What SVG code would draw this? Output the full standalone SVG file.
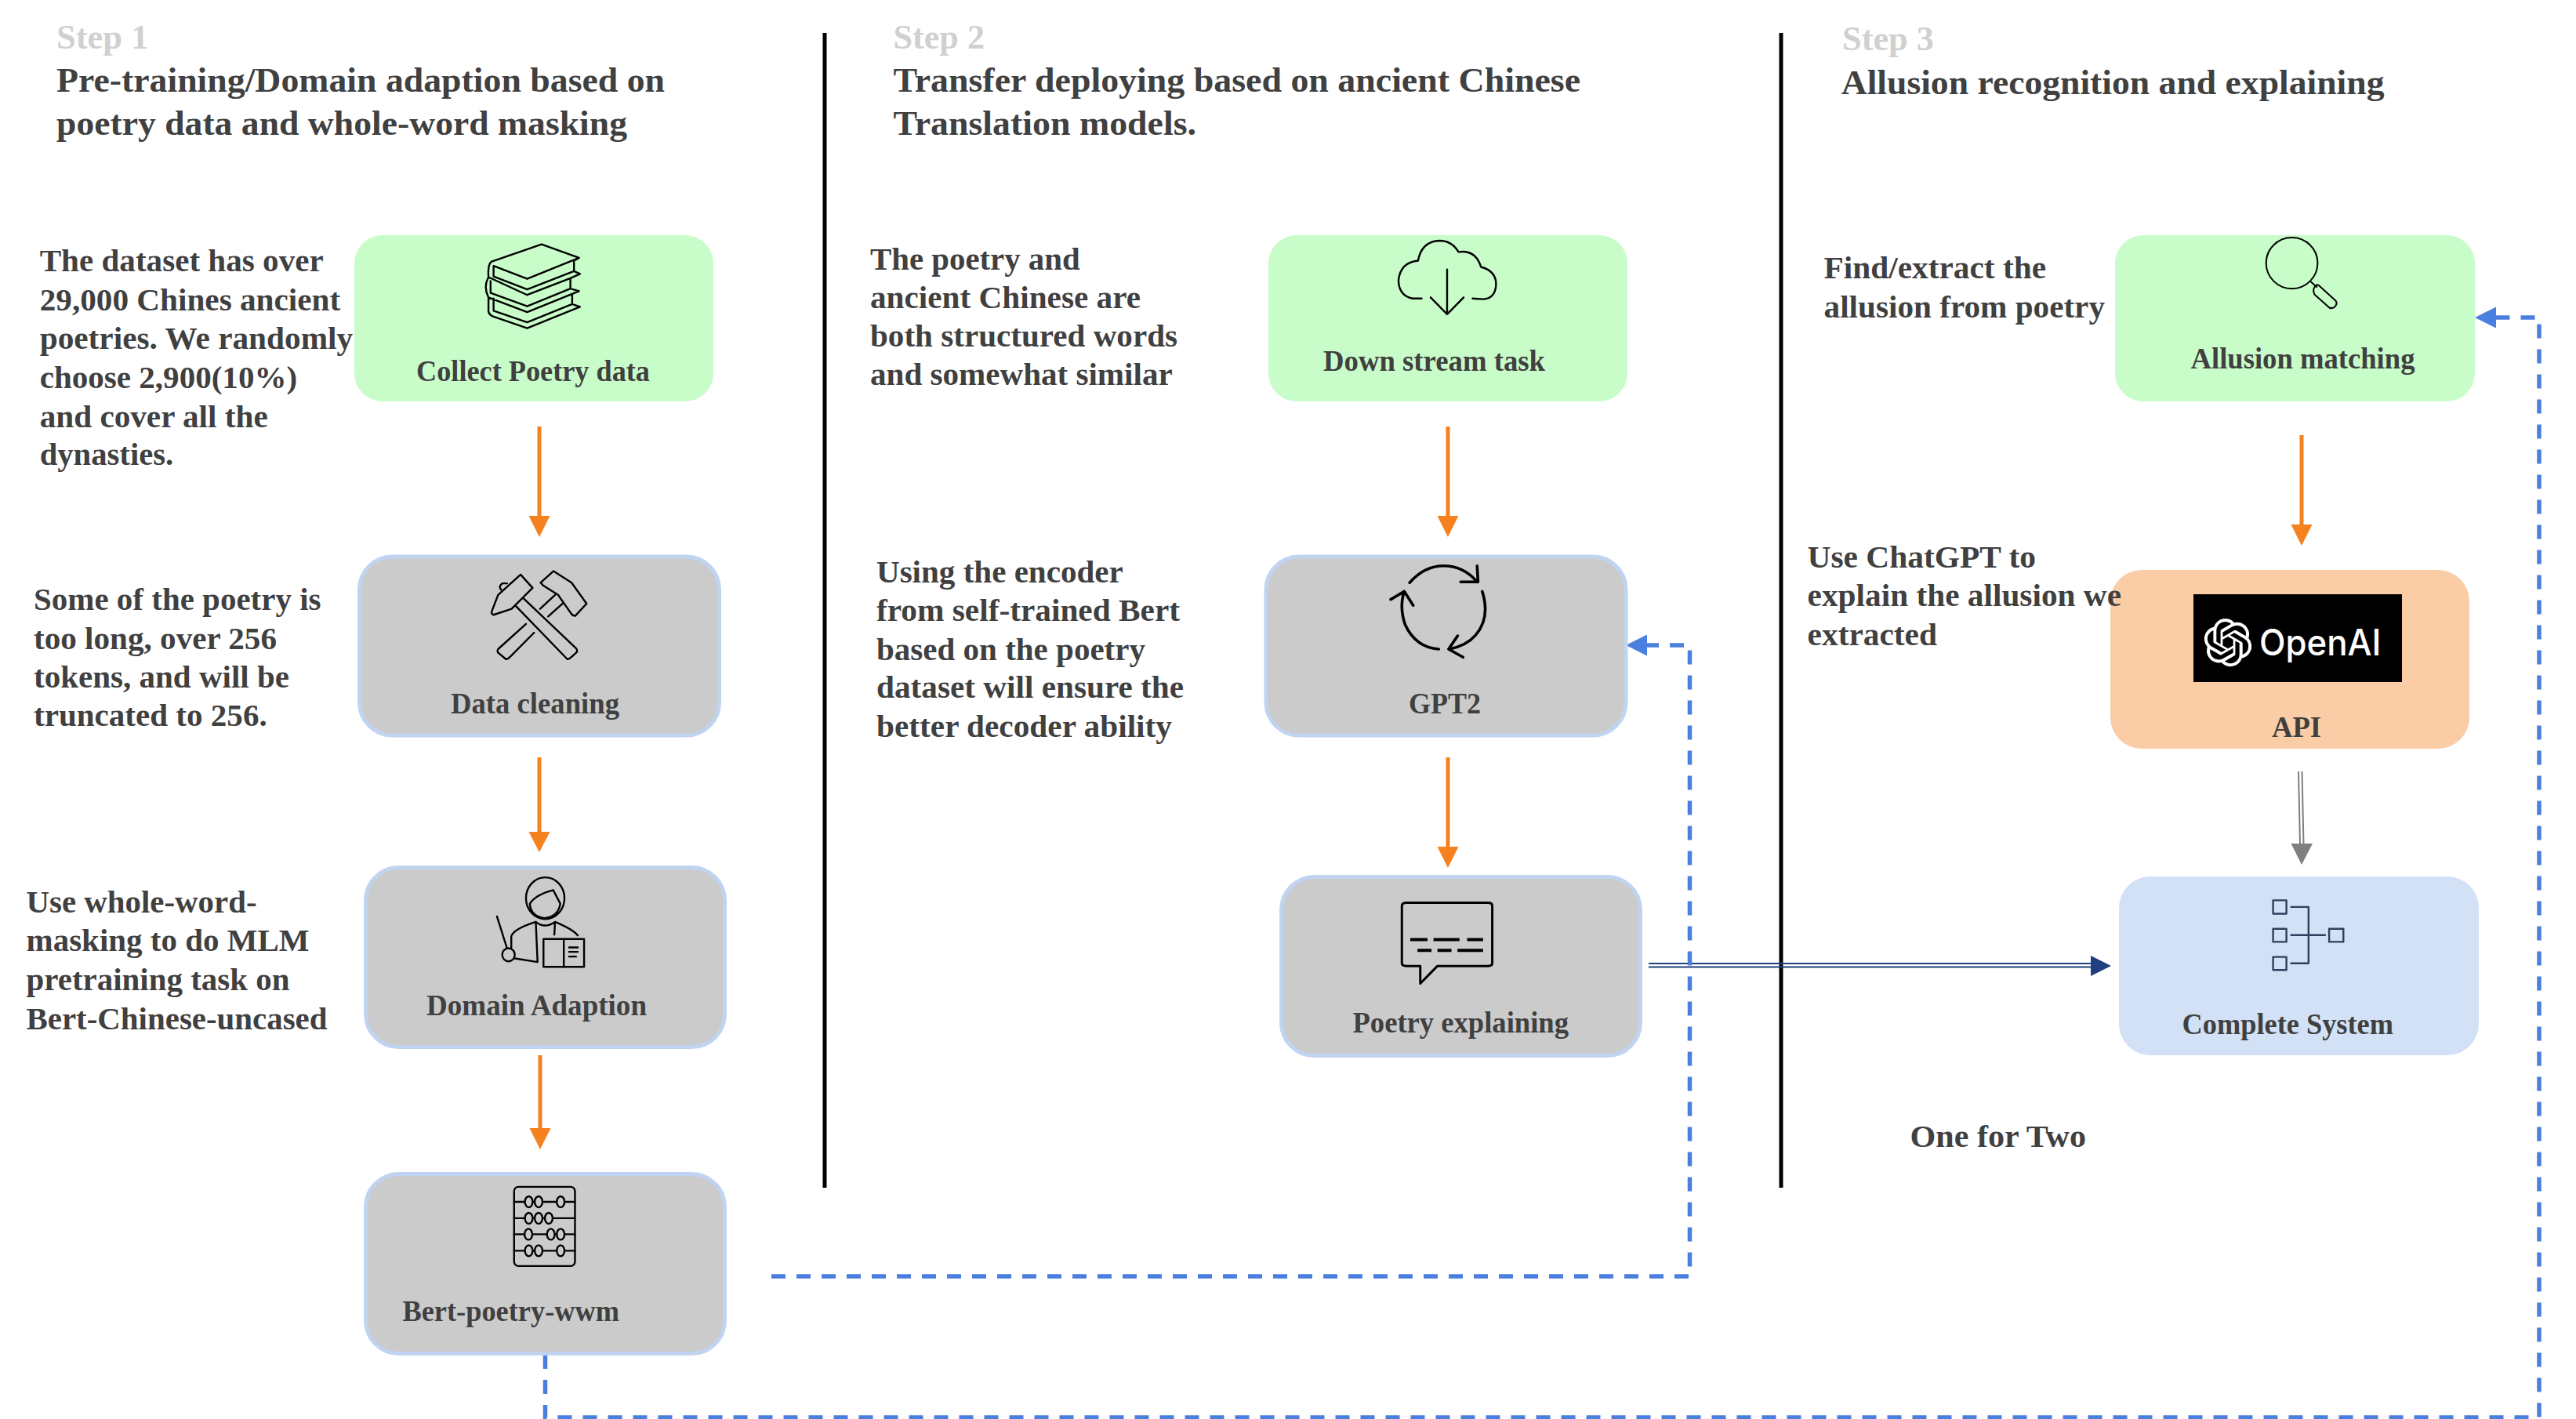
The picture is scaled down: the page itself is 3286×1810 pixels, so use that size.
<svg xmlns="http://www.w3.org/2000/svg" width="3286" height="1810" viewBox="0 0 3286 1810">
<style>
text{font-family:"Liberation Serif","Times New Roman",serif;font-weight:700;fill:#404040}
.h{font-size:44px}.s{font-size:44px;fill:#d0d0d0}.l{font-size:37px}.p{font-size:40px}
.green{fill:#c8fcc8}.gray{fill:#cbcbcb;stroke:#c0d4f2;stroke-width:5}.o{fill:#facda6}.b{fill:#d2e1f6}
.ic{fill:none;stroke:#000;stroke-width:2.4;stroke-linecap:round;stroke-linejoin:round}
.ic *{vector-effect:non-scaling-stroke}
.da{fill:none;stroke:#4a7fdf;stroke-width:5.500;stroke-dasharray:18 14}
.or{stroke:#f5811f;stroke-width:5;fill:none}
</style>
<rect width="3286" height="1810" fill="#fff"/>
<g id="connectors">
<path d="M1052 42V1515M2272 42V1515" stroke="#000" stroke-width="5" fill="none"/>
<path class="or" d="M688 544V660M688 966V1063M689 1346V1441M1847 544V660M1847 966V1081M2936 555V670"/>
<path fill="#f5811f" d="M674.500 658H701.500L688 685ZM674.500 1061H701.500L688 1087ZM675.500 1439H702.500L689 1466ZM1833.500 1080H1860.500L1847 1107ZM1833.500 658H1860.500L1847 685ZM2922.500 669H2949.500L2936 696Z"/>
<path d="M2932 984L2934 1077M2936.500 984L2938.500 1077" stroke="#7f7f7f" stroke-width="2" fill="none"/>
<path fill="#7f7f7f" d="M2922.500 1076H2950L2936 1103Z"/>
<path d="M2103 1229H2670M2103 1233.500H2670" stroke="#1f3f7f" stroke-width="2" fill="none"/>
<path fill="#1f3f7f" d="M2667 1219V1245L2693 1232Z"/>
<path class="da" d="M984 1628H2155.500V823H2100"/>
<path fill="#4a7fdf" d="M2101 809.500V836.500L2074 823Z"/>
<path class="da" d="M695.500 1728V1808H3239V405H3180"/>
<path fill="#4a7fdf" d="M3184 391.500V418.500L3157 405Z"/>
</g>
<g id="n-collect"><rect class="green" x="452" y="300" width="458" height="212" rx="36"/>
<g class="ic" transform="translate(400 270) scale(.3827 .4464)"><path d="M885 132L760 93L592 143Q580 152 583 187Q565 215 583 245L583 285Q585 295 600 300L712 333L888 272L862 264V235L885 227L856 220V190L888 178L868 170V140ZM600 155L712 192L885 132M600 155V185L712 222L868 170M590 198V232L712 270L856 220M600 248V283L712 316L862 264M583 187L712 238L856 190M583 245L712 287L862 235"/></g>
<text class="l" x="531" y="486" textLength="298" lengthAdjust="spacingAndGlyphs">Collect Poetry data</text></g>
<g id="n-clean"><rect class="gray" x="458.500" y="710" width="459" height="228" rx="42"/>
<g class="ic" transform="translate(400 270) scale(.3827 .4464)"><path d="M690 1037L730 1075L660 1135L600 1152Q590 1150 595 1140L615 1095ZM625 1080Q615 1070 630 1062L645 1062M672 1125L845 1278Q852 1280 860 1272L878 1258Q880 1250 872 1245L700 1105M757 1060L800 1027L860 1060L910 1120L872 1155Q865 1155 860 1150L815 1095L765 1068ZM805 1095L755 1135M832 1118L782 1157M708 1178L615 1250Q610 1258 618 1262L640 1278Q648 1280 655 1272L735 1203"/></g>
<text class="l" x="575" y="909.500" textLength="215" lengthAdjust="spacingAndGlyphs">Data cleaning</text></g>
<g id="n-domain"><rect class="gray" x="466.500" y="1106.500" width="458" height="229" rx="42"/>
<g class="ic" transform="translate(400 1080.500) scale(.4464 .4655)"><ellipse cx="662" cy="140" rx="55" ry="57"/><path d="M618 155Q635 130 685 118L705 155M618 155Q620 190 660 195Q700 190 705 155M524 190L552 275M565 275V245Q570 225 635 205L640 315L575 305M635 205Q660 225 690 205M690 205L688 240M690 205Q740 225 755 242"/><circle cx="557" cy="295" r="18"/><rect x="657" y="252" width="116" height="76"/><path d="M715 252V328M730 275H755M730 287H755M730 300H750"/></g>
<text class="l" x="544" y="1295" textLength="281" lengthAdjust="spacingAndGlyphs">Domain Adaption</text></g>
<g id="n-bert"><rect class="gray" x="466.500" y="1497.500" width="458" height="229" rx="42"/>
<g class="ic" transform="translate(400 1080.500) scale(.4464 .4655)"><rect x="573" y="931" width="174" height="217" rx="12"/><path d="M573 972H747M573 1017H747M573 1061H747M573 1106H747"/><g fill="#cbcbcb"><ellipse cx="615" cy="972" rx="11" ry="15"/><ellipse cx="643" cy="972" rx="11" ry="15"/><ellipse cx="706" cy="972" rx="11" ry="15"/><ellipse cx="615" cy="1017" rx="11" ry="15"/><ellipse cx="643" cy="1017" rx="11" ry="15"/><ellipse cx="672" cy="1017" rx="11" ry="15"/><ellipse cx="614" cy="1061" rx="11" ry="15"/><ellipse cx="678" cy="1061" rx="11" ry="15"/><ellipse cx="706" cy="1061" rx="11" ry="15"/><ellipse cx="615" cy="1106" rx="11" ry="15"/><ellipse cx="643" cy="1106" rx="11" ry="15"/><ellipse cx="706" cy="1106" rx="11" ry="15"/></g></g>
<text class="l" x="513.500" y="1684.500" textLength="276.500" lengthAdjust="spacingAndGlyphs">Bert-poetry-wwm</text></g>
<g id="n-down"><rect class="green" x="1618" y="300" width="458" height="212" rx="36"/>
<g class="ic" transform="translate(1580 270) scale(.3827 .4464)"><path d="M610 248L580 248Q533 240 533 195Q540 145 598 140Q610 85 670 83Q710 83 733 115Q790 108 808 158Q860 170 858 210Q855 248 815 250L780 248M695 165V293M640 245L695 293L750 245"/></g>
<text class="l" x="1688" y="473" textLength="283" lengthAdjust="spacingAndGlyphs">Down stream task</text></g>
<g id="n-gpt"><rect class="gray" x="1615" y="710" width="459" height="228" rx="42"/>
<g class="ic" transform="translate(1580 270) scale(.3827 .4464)" style="stroke-width:3.600"><path d="M570 1060Q620 1012 683 1012Q750 1012 795 1058M740 1058L798 1058L795 1012M812 1085Q840 1160 790 1210Q760 1240 702 1250M730 1212L700 1250L748 1273M667 1250Q590 1245 555 1180Q535 1130 552 1085M507 1108L552 1085L582 1125"/></g>
<text class="l" x="1797" y="909.500" textLength="92" lengthAdjust="spacingAndGlyphs">GPT2</text></g>
<g id="n-explain"><rect class="gray" x="1634.500" y="1118.500" width="458" height="228" rx="42"/>
<g class="ic" transform="translate(1600 1080.500) scale(.5102 .3333)" style="stroke-width:3"><path d="M380 213H585Q595 213 595 225V445Q595 455 585 455H458L415 522V455H380Q369 455 369 445V225Q369 213 380 213Z"/><path d="M390 354H433M448 354H513M532 354H572M408 395H443M458 395H493M508 395H572" style="stroke-width:4;stroke-linecap:butt"/></g>
<text class="l" x="1725.500" y="1316.500" textLength="275.500" lengthAdjust="spacingAndGlyphs">Poetry explaining</text></g>
<g id="n-allusion"><rect class="green" x="2698" y="300" width="459" height="212" rx="36"/>
<g class="ic" transform="translate(2680 270) scale(.3866 .4464)" style="stroke-width:2"><ellipse cx="630" cy="147" rx="85" ry="73"/><path d="M692 200L712 215M718 210L775 255Q782 265 770 273Q758 280 748 270L705 237Q698 225 705 215Q712 207 718 210Z"/></g>
<text class="l" x="2794.500" y="470" textLength="286" lengthAdjust="spacingAndGlyphs">Allusion matching</text></g>
<g id="n-api"><rect class="o" x="2692" y="727" width="458" height="228" rx="40"/>
<rect x="2798" y="758" width="266" height="112" fill="#000"/>
<path fill="#fff" transform="translate(2811.400 789) scale(2.550)" d="M22.2819 9.8211a5.9847 5.9847 0 0 0-.5157-4.9108 6.0462 6.0462 0 0 0-6.5098-2.9A6.0651 6.0651 0 0 0 4.9807 4.1818a5.9847 5.9847 0 0 0-3.9977 2.9 6.0462 6.0462 0 0 0 .7427 7.0966 5.98 5.98 0 0 0 .511 4.9107 6.051 6.051 0 0 0 6.5146 2.9001A5.9847 5.9847 0 0 0 13.2599 24a6.0557 6.0557 0 0 0 5.7718-4.2058 5.9894 5.9894 0 0 0 3.9977-2.9001 6.0557 6.0557 0 0 0-.7475-7.0729zm-9.022 12.6081a4.4755 4.4755 0 0 1-2.8764-1.0408l.1419-.0804 4.7783-2.7582a.7948.7948 0 0 0 .3927-.6813v-6.7369l2.02 1.1686a.071.071 0 0 1 .038.052v5.5826a4.504 4.504 0 0 1-4.4945 4.4944zm-9.6607-4.1254a4.4708 4.4708 0 0 1-.5346-3.0137l.142.0852 4.783 2.7582a.7712.7712 0 0 0 .7806 0l5.8428-3.3685v2.3324a.0804.0804 0 0 1-.0332.0615L9.74 19.9502a4.4992 4.4992 0 0 1-6.1408-1.6464zM2.3408 7.8956a4.485 4.485 0 0 1 2.3655-1.9728V11.6a.7664.7664 0 0 0 .3879.6765l5.8144 3.3543-2.0201 1.1685a.0757.0757 0 0 1-.071 0l-4.8303-2.7865A4.504 4.504 0 0 1 2.3408 7.872zm16.5963 3.8558L13.1038 8.364 15.1192 7.2a.0757.0757 0 0 1 .071 0l4.8303 2.7913a4.4944 4.4944 0 0 1-.6765 8.1042v-5.6772a.79.79 0 0 0-.407-.667zm2.0107-3.0231l-.142-.0852-4.7735-2.7818a.7759.7759 0 0 0-.7854 0L9.409 9.2297V6.8974a.0662.0662 0 0 1 .0284-.0615l4.8303-2.7866a4.4992 4.4992 0 0 1 6.6802 4.66zM8.3065 12.863l-2.02-1.1638a.0804.0804 0 0 1-.038-.0567V6.0742a4.4992 4.4992 0 0 1 7.3757-3.4537l-.142.0805L8.704 5.459a.7948.7948 0 0 0-.3927.6813zm1.0976-2.3654l2.602-1.4998 2.6069 1.4998v2.9994l-2.5974 1.4997-2.6067-1.4997Z"/>
<text x="2882" y="836" textLength="155.500" lengthAdjust="spacingAndGlyphs" style="font-family:Inter,'Liberation Sans',sans-serif;font-size:46px;font-weight:500;fill:#fff">OpenAI</text>
<text class="l" x="2898" y="939.500" textLength="63" lengthAdjust="spacingAndGlyphs">API</text></g>
<g id="n-system"><rect class="b" x="2703" y="1118" width="459" height="228" rx="40"/>
<g class="ic" transform="translate(2680 970.500) scale(.3866 .5357)" style="stroke:#2f3e5c;stroke-linecap:butt"><rect x="568" y="332" width="44" height="32"/><rect x="568" y="400" width="44" height="31"/><rect x="568" y="467" width="44" height="31"/><rect x="753" y="400" width="47" height="31"/><path d="M625 348H685V482H625M625 415H742"/></g>
<text class="l" x="2783.500" y="1318.500" textLength="269.500" lengthAdjust="spacingAndGlyphs">Complete System</text></g>
<g id="headers">
<text class="s" x="72" y="62" textLength="117.500" lengthAdjust="spacingAndGlyphs">Step 1</text>
<text class="h" x="72" y="117" textLength="776" lengthAdjust="spacingAndGlyphs">Pre-training/Domain adaption based on</text>
<text class="h" x="72" y="172" textLength="728" lengthAdjust="spacingAndGlyphs">poetry data and whole-word masking</text>
<text class="s" x="1139.500" y="62" textLength="116.500" lengthAdjust="spacingAndGlyphs">Step 2</text>
<text class="h" x="1139.500" y="117" textLength="876.500" lengthAdjust="spacingAndGlyphs">Transfer deploying based on ancient Chinese</text>
<text class="h" x="1139.500" y="172" textLength="386.500" lengthAdjust="spacingAndGlyphs">Translation models.</text>
<text class="s" x="2350" y="64" textLength="117" lengthAdjust="spacingAndGlyphs">Step 3</text>
<text class="h" x="2348.700" y="120" textLength="692.800" lengthAdjust="spacingAndGlyphs">Allusion recognition and explaining</text>
</g>
<g id="notes" transform="translate(0 1.500)">
<text class="p" x="50.700" y="344" textLength="362" lengthAdjust="spacingAndGlyphs">The dataset has over</text>
<text class="p" x="50.700" y="394" textLength="383.500" lengthAdjust="spacingAndGlyphs">29,000 Chines ancient</text>
<text class="p" x="50.700" y="443" textLength="399.500" lengthAdjust="spacingAndGlyphs">poetries. We randomly</text>
<text class="p" x="50.700" y="493" textLength="328.500" lengthAdjust="spacingAndGlyphs">choose 2,900(10%)</text>
<text class="p" x="50.700" y="543" textLength="291" lengthAdjust="spacingAndGlyphs">and cover all the</text>
<text class="p" x="50.700" y="591" textLength="170.500" lengthAdjust="spacingAndGlyphs">dynasties.</text>
<text class="p" x="43" y="776" textLength="366.500" lengthAdjust="spacingAndGlyphs">Some of the poetry is</text>
<text class="p" x="43" y="826" textLength="310" lengthAdjust="spacingAndGlyphs">too long, over 256</text>
<text class="p" x="43" y="875" textLength="326" lengthAdjust="spacingAndGlyphs">tokens, and will be</text>
<text class="p" x="43" y="924.500" textLength="297.700" lengthAdjust="spacingAndGlyphs">truncated to 256.</text>
<text class="p" x="33.500" y="1162.700" textLength="294" lengthAdjust="spacingAndGlyphs">Use whole-word-</text>
<text class="p" x="33.500" y="1211.700" textLength="361" lengthAdjust="spacingAndGlyphs">masking to do MLM</text>
<text class="p" x="33.500" y="1261.700" textLength="336" lengthAdjust="spacingAndGlyphs">pretraining task on</text>
<text class="p" x="33.500" y="1311" textLength="384" lengthAdjust="spacingAndGlyphs">Bert-Chinese-uncased</text>
<text class="p" x="1110" y="342" textLength="267.700" lengthAdjust="spacingAndGlyphs">The poetry and</text>
<text class="p" x="1110" y="391" textLength="345" lengthAdjust="spacingAndGlyphs">ancient Chinese are</text>
<text class="p" x="1110" y="440.500" textLength="392" lengthAdjust="spacingAndGlyphs">both structured words</text>
<text class="p" x="1110" y="489.500" textLength="385.700" lengthAdjust="spacingAndGlyphs">and somewhat similar</text>
<text class="p" x="1118" y="741" textLength="314.700" lengthAdjust="spacingAndGlyphs">Using the encoder</text>
<text class="p" x="1118" y="790" textLength="387" lengthAdjust="spacingAndGlyphs">from self-trained Bert</text>
<text class="p" x="1118" y="840" textLength="343" lengthAdjust="spacingAndGlyphs">based on the poetry</text>
<text class="p" x="1118" y="888.500" textLength="392" lengthAdjust="spacingAndGlyphs">dataset will ensure the</text>
<text class="p" x="1118" y="938" textLength="377" lengthAdjust="spacingAndGlyphs">better decoder ability</text>
<text class="p" x="2326.600" y="353" textLength="283.400" lengthAdjust="spacingAndGlyphs">Find/extract the</text>
<text class="p" x="2326.600" y="403" textLength="358.400" lengthAdjust="spacingAndGlyphs">allusion from poetry</text>
<text class="p" x="2305.600" y="722" textLength="291.400" lengthAdjust="spacingAndGlyphs">Use ChatGPT to</text>
<text class="p" x="2305.600" y="771" textLength="400.400" lengthAdjust="spacingAndGlyphs">explain the allusion we</text>
<text class="p" x="2305.600" y="821" textLength="165.400" lengthAdjust="spacingAndGlyphs">extracted</text>
</g>
<text class="p" x="2436.600" y="1463" textLength="224.400" lengthAdjust="spacingAndGlyphs">One for Two</text>
</svg>
